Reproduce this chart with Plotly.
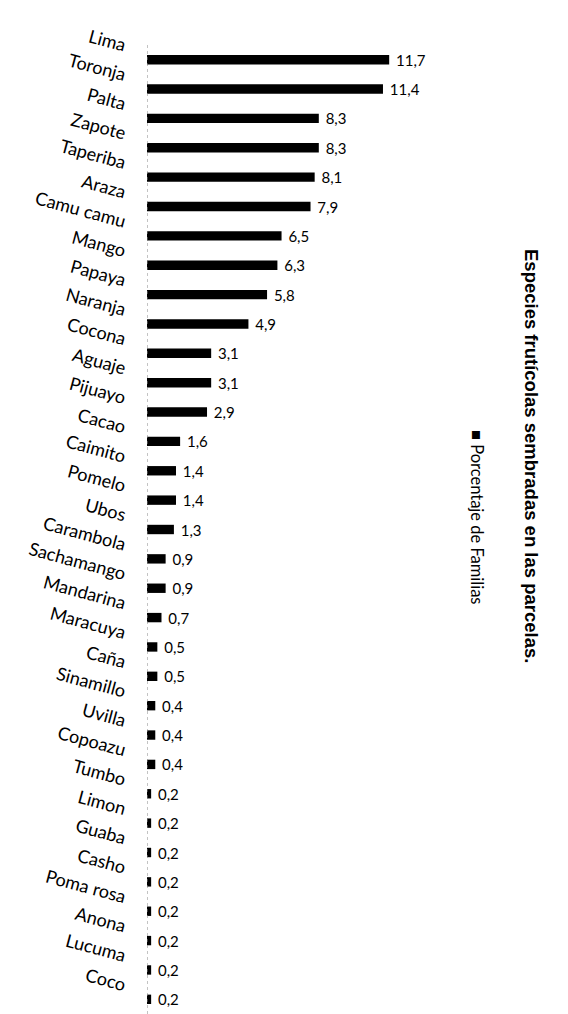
import plotly.graph_objects as go

# Fruit species planted on family plots (% of families)
especies = [
    "Lima", "Toronja", "Palta", "Zapote", "Taperiba", "Araza", "Camu camu",
    "Mango", "Papaya", "Naranja", "Cocona", "Aguaje", "Pijuayo", "Cacao",
    "Caimito", "Pomelo", "Ubos", "Carambola", "Sachamango", "Mandarina",
    "Maracuya", "Caña", "Sinamillo", "Uvilla", "Copoazu", "Tumbo", "Limon",
    "Guaba", "Casho", "Poma rosa", "Anona", "Lucuma", "Coco",
]
porcentaje = [
    11.7, 11.4, 8.3, 8.3, 8.1, 7.9, 6.5,
    6.3, 5.8, 4.9, 3.1, 3.1, 2.9, 1.6,
    1.4, 1.4, 1.3, 0.9, 0.9, 0.7,
    0.5, 0.5, 0.4, 0.4, 0.4, 0.2, 0.2,
    0.2, 0.2, 0.2, 0.2, 0.2, 0.2,
]
titulo = "Especies frutícolas sembradas en las parcelas."
serie = "Porcentaje de Familias"

# decimal comma labels, padded a little away from the bar end
etiquetas = ["\u00a0" + f"{v:.1f}".replace(".", ",") for v in porcentaje]

W, H = 568, 1014
left, plot_w = 147, 300
top, bottom = 45, 0
plot_h = H - top - bottom


def px_x(p):
    return (p - left) / plot_w


def px_y(p):
    return (H - bottom - p) / plot_h


fig = go.Figure()
fig.add_trace(go.Bar(
    x=porcentaje,
    y=especies,
    orientation="h",
    width=0.32,
    marker=dict(color="#000000", line=dict(width=0)),
    text=etiquetas,
    textposition="outside",
    constraintext="none",
    textfont=dict(family="Lato", size=15, color="#000000"),
    cliponaxis=False,
    name=serie,
    showlegend=False,
))

# dotted vertical axis line at zero
fig.add_shape(type="line", xref="x", yref="paper", x0=0, x1=0, y0=0, y1=1,
              line=dict(color="#888888", width=1, dash="dot"))

# vertical title
fig.add_annotation(text=f"<b>{titulo}</b>", xref="paper", yref="paper",
                   x=px_x(532), y=px_y(456), xanchor="center", yanchor="middle",
                   textangle=90, showarrow=False,
                   font=dict(family="Liberation Sans", size=18.5, color="#000000"))

# vertical legend entry
fig.add_annotation(text=f"■ {serie}", xref="paper", yref="paper",
                   x=px_x(477), y=px_y(517), xanchor="center", yanchor="middle",
                   textangle=90, showarrow=False,
                   font=dict(family="Lato", size=16.5, color="#000000"))

fig.update_layout(
    width=W, height=H,
    margin=dict(l=left, r=W - left - plot_w, t=top, b=bottom),
    paper_bgcolor="white", plot_bgcolor="white",
    xaxis=dict(range=[0, plot_w / 20.7], visible=False, showgrid=False, zeroline=False),
    yaxis=dict(autorange="reversed", showgrid=False, zeroline=False, showline=False,
               ticks="", tickangle=15, ticklabelstandoff=20, ticklabelshift=14,
               tickfont=dict(family="Lato", size=18, color="#000000")),
    bargap=0.68,
)

fig.write_html("out.html")
